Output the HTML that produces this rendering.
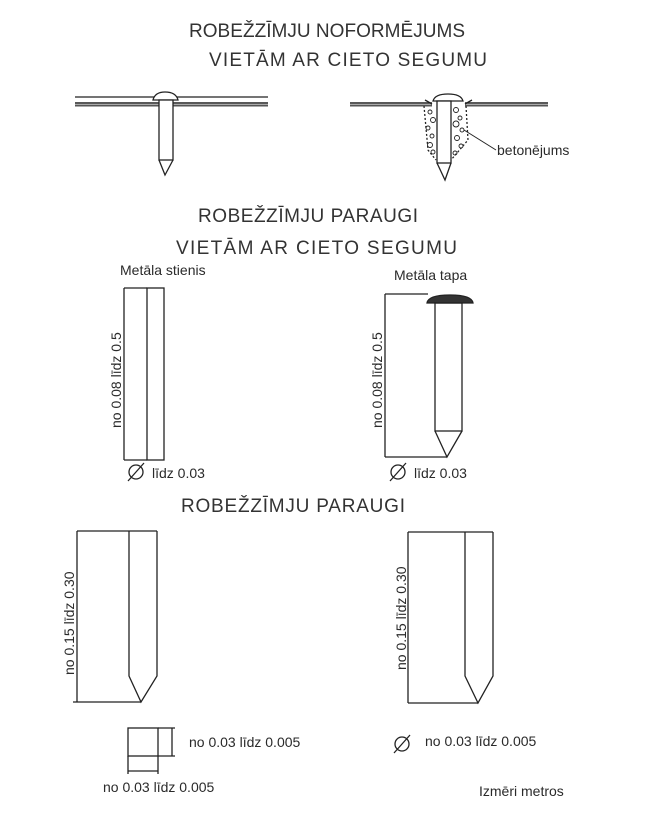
<!DOCTYPE html>
<html><head><meta charset="utf-8"><style>
html,body{margin:0;padding:0;background:#fff;}
svg{display:block;}
text{font-family:"Liberation Sans",sans-serif;fill:#2a2a2a;}
.t{font-size:19px;fill:#333;}
.s{font-size:14px;}
</style></head><body>
<svg width="645" height="827" viewBox="0 0 645 827" xmlns="http://www.w3.org/2000/svg">
<g fill="none" stroke="#222" stroke-width="1.3">
<line x1="75" y1="97" x2="268" y2="97"/>
<line x1="75" y1="103" x2="268" y2="103" stroke-width="1.5"/>
<line x1="75" y1="105.5" x2="268" y2="105.5" stroke="#555" stroke-width="2"/>
<path d="M153 100 Q155 92 165 92 Q176 92 178 100 Z" fill="#fff"/>
<rect x="159" y="100" width="14" height="60" fill="#fff"/>
<path d="M159 160 L165 175 L173 160"/>
<line x1="350" y1="103" x2="432" y2="103" stroke-width="1.5"/>
<line x1="350" y1="105.5" x2="432" y2="105.5" stroke="#555" stroke-width="2"/>
<line x1="465" y1="103" x2="548" y2="103" stroke-width="1.5"/>
<line x1="465" y1="105.5" x2="548" y2="105.5" stroke="#555" stroke-width="2"/>
<line x1="425" y1="100" x2="432" y2="104"/>
<line x1="472" y1="100" x2="465" y2="104"/>
<path d="M424 106 L428 150 L436 160 M466 106 L468 140 L451 160" stroke-dasharray="2 2"/>
<g stroke-width="0.9">
<circle cx="430" cy="112" r="2"/><circle cx="433" cy="120" r="2.5"/><circle cx="428" cy="128" r="2"/><circle cx="432" cy="136" r="2"/><circle cx="430" cy="145" r="2.5"/><circle cx="433" cy="152" r="2"/>
<circle cx="456" cy="110" r="2.5"/><circle cx="460" cy="118" r="2"/><circle cx="456" cy="124" r="3"/><circle cx="462" cy="130" r="2"/><circle cx="457" cy="138" r="2.5"/><circle cx="461" cy="146" r="2"/><circle cx="455" cy="153" r="2"/>
</g>
<path d="M433 101 Q435 94 448 94 Q461 94 463 101 Z" fill="#fff"/>
<rect x="437" y="101" width="14" height="62" fill="#fff"/>
<path d="M437 163 L445 180 L451 163"/>
<line x1="464" y1="130" x2="496" y2="150" stroke-width="1"/>
<line x1="124" y1="288" x2="147" y2="288"/>
<line x1="124" y1="288" x2="124" y2="460"/>
<line x1="124" y1="460" x2="147" y2="460"/>
<rect x="147" y="288" width="17" height="172"/>
<line x1="385" y1="294" x2="428" y2="294"/>
<line x1="385" y1="294" x2="385" y2="457"/>
<line x1="385" y1="457" x2="447" y2="457"/>
<path d="M427 303 Q428 295 450 295 Q472 295 473 303 Z" fill="#333"/>
<rect x="435" y="303" width="27" height="128"/>
<path d="M435 431 L447 457 L462 431"/>
<line x1="77" y1="531" x2="157" y2="531"/>
<line x1="77" y1="531" x2="77" y2="702"/>
<line x1="73" y1="702" x2="141" y2="702"/>
<path d="M129 531 L129 676 L141 702 L157 676 L157 531"/>
<line x1="408" y1="532" x2="493" y2="532"/>
<line x1="408" y1="532" x2="408" y2="703"/>
<line x1="408" y1="703" x2="478" y2="703"/>
<path d="M465 532 L465 676 L478 703 L493 676 L493 532"/>
<rect x="128" y="728" width="30" height="28"/>
<line x1="158" y1="728" x2="175" y2="728"/>
<line x1="158" y1="756" x2="175" y2="756"/>
<line x1="172" y1="728" x2="172" y2="756"/>
<line x1="128" y1="756" x2="128" y2="774"/>
<line x1="158" y1="756" x2="158" y2="774"/>
<line x1="128" y1="771" x2="158" y2="771"/>
<circle cx="136" cy="472" r="7"/><line x1="128" y1="481" x2="144" y2="463"/>
<circle cx="398" cy="472" r="7"/><line x1="390" y1="481" x2="406" y2="463"/>
<circle cx="402" cy="744" r="7"/><line x1="394" y1="753" x2="410" y2="735"/>
</g>
<text class="t" x="189" y="37" textLength="276" lengthAdjust="spacing">ROBEŽZĪMJU NOFORMĒJUMS</text>
<text class="t" x="209" y="66" textLength="278" lengthAdjust="spacing">VIETĀM AR CIETO SEGUMU</text>
<text class="t" x="198" y="222" textLength="220" lengthAdjust="spacing">ROBEŽZĪMJU PARAUGI</text>
<text class="t" x="176" y="254" textLength="281" lengthAdjust="spacing">VIETĀM AR CIETO SEGUMU</text>
<text class="t" x="181" y="512" textLength="224" lengthAdjust="spacing">ROBEŽZĪMJU PARAUGI</text>
<text class="s" x="497" y="155">betonējums</text>
<text class="s" x="120" y="275">Metāla stienis</text>
<text class="s" x="394" y="280">Metāla tapa</text>
<text class="s" x="152" y="478" font-size="16">līdz 0.03</text>
<text class="s" x="414" y="478" font-size="16">līdz 0.03</text>
<text class="s" transform="translate(121,428) rotate(-90)" font-size="15">no 0.08 līdz 0.5</text>
<text class="s" transform="translate(382,428) rotate(-90)" font-size="15">no 0.08 līdz 0.5</text>
<text class="s" transform="translate(74,675) rotate(-90)" font-size="15">no 0.15 līdz 0.30</text>
<text class="s" transform="translate(406,670) rotate(-90)" font-size="15">no 0.15 līdz 0.30</text>
<text class="s" x="189" y="747" font-size="15">no 0.03 līdz 0.005</text>
<text class="s" x="103" y="792" font-size="15">no 0.03 līdz 0.005</text>
<text class="s" x="425" y="746" font-size="15">no 0.03 līdz 0.005</text>
<text class="s" x="479" y="796">Izmēri metros</text>
</svg>
</body></html>
